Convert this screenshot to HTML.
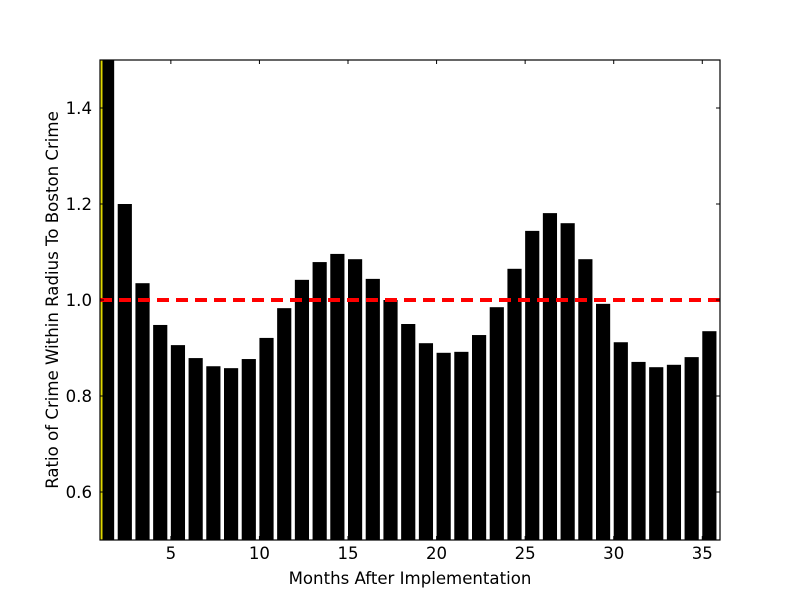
<!DOCTYPE html>
<html><head><meta charset="utf-8"><style>
html,body{margin:0;padding:0;background:#fff;}
svg text{font-family:"DejaVu Sans","Liberation Sans",sans-serif;font-size:16.6px;fill:#000;}
</style></head><body>
<svg id="chart" width="800" height="600" viewBox="0 0 800 600" xmlns="http://www.w3.org/2000/svg">
<defs><clipPath id="plotclip"><rect x="100" y="60" width="620" height="480"/></clipPath></defs>
<rect x="0" y="0" width="800" height="600" fill="#fff"/>
<g id="bars" clip-path="url(#plotclip)"></g>
<line x1="101.5" y1="60" x2="101.5" y2="540" stroke="#e0d800" stroke-width="2"/>
<line id="refline" stroke="#ff0000" stroke-width="4" stroke-dasharray="12,7"/>
<rect x="100" y="60" width="620" height="480" fill="none" stroke="#000" stroke-width="1.2"/>
<g id="ticks"></g>
<text x="410" y="584" text-anchor="middle">Months After Implementation</text>
<text x="58" y="300" text-anchor="middle" transform="rotate(-90 58 300)">Ratio of Crime Within Radius To Boston Crime</text>
</svg>
<script>
const months = [1,2,3,4,5,6,7,8,9,10,11,12,13,14,15,16,17,18,19,20,21,22,23,24,25,26,27,28,29,30,31,32,33,34,35,36];
const ratios = [1.6,1.2,1.035,0.948,0.906,0.879,0.862,0.858,0.877,0.921,0.983,1.042,1.079,1.096,1.085,1.044,1.0,0.95,0.91,0.89,0.892,0.927,0.985,1.065,1.144,1.181,1.16,1.085,0.992,0.912,0.871,0.86,0.865,0.881,0.935,1.06];
const xTicks = [5,10,15,20,25,30,35];
const yTicks = [0.6,0.8,1.0,1.2,1.4];
const refValue = 1.0;
const xMin=1,xMax=36,yMin=0.5,yMax=1.5;
const L=100,R=720,T=60,B=540;
const sx=v=>L+(v-xMin)/(xMax-xMin)*(R-L);
const sy=v=>B-(v-yMin)/(yMax-yMin)*(B-T);
const NS="http://www.w3.org/2000/svg";
const gb=document.getElementById('bars');
months.forEach((m,i)=>{
  const r=document.createElementNS(NS,'rect');
  const x0=sx(m), x1=sx(m+0.8), y=sy(ratios[i]);
  r.setAttribute('x',x0);r.setAttribute('width',x1-x0);
  r.setAttribute('y',y);r.setAttribute('height',B-y);
  r.setAttribute('fill','#000');
  
  
  gb.appendChild(r);
});
const rl=document.getElementById('refline');
rl.setAttribute('x1',L);rl.setAttribute('x2',R);
rl.setAttribute('y1',sy(refValue));rl.setAttribute('y2',sy(refValue));
const gt=document.getElementById('ticks');
function add(tag,attrs,txt){const e=document.createElementNS(NS,tag);for(const k in attrs)e.setAttribute(k,attrs[k]);if(txt!==undefined)e.textContent=txt;gt.appendChild(e);return e;}
xTicks.forEach(t=>{
  const x=sx(t);
  add('line',{x1:x,x2:x,y1:B,y2:B-4,stroke:'#000'});
  add('line',{x1:x,x2:x,y1:T,y2:T+4,stroke:'#000'});
  const tx=add('text',{x:x,y:B+19,'text-anchor':'middle'},String(t));
  
  
});
yTicks.forEach(t=>{
  const y=sy(t);
  add('line',{x1:L,x2:L+4,y1:y,y2:y,stroke:'#000'});
  add('line',{x1:R,x2:R-4,y1:y,y2:y,stroke:'#000'});
  const tx=add('text',{x:L-8,y:y+6,'text-anchor':'end'},t.toFixed(1));
  
  
});
</script>
</body></html>
